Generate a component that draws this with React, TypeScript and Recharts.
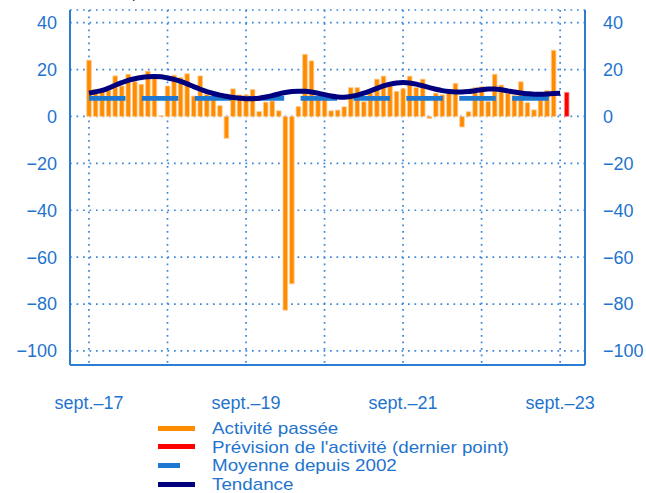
import React from "react";
import { ComposedChart, Bar, Line, XAxis, YAxis, CartesianGrid, Legend } from "recharts";

// ---------- data ----------
const monthNames = ["janv.", "févr.", "mars", "avr.", "mai", "juin", "juil.", "août", "sept.", "oct.", "nov.", "déc."];
// months from sept. 2017 (index 0) to oct. 2023 (index 73)
const months: string[] = [];
for (let i = 0; i < 74; i++) {
  const m = (8 + i) % 12;
  const y = 17 + Math.floor((8 + i) / 12);
  months.push(`${monthNames[m]}-${y}`);
}

// Activité passée: sept.-17 .. août-23
const pastActivity = [
  24, 11.5, 11.5, 11, 17.3, 13, 18, 14.8, 13.7, 19.3, 17.6, 0.3,
  13, 17.6, 16.6, 18.2, 8.7, 17.3, 9.4, 8.5, 4.6, -9.3, 11.8, 9.2,
  9.2, 11.5, 2.1, 6.1, 6.6, 2.4, -82.6, -71.4, 4.2, 26.5, 23.7, 8.5,
  10, 2.4, 2.7, 4.1, 12.3, 12.3, 6.3, 10, 15.9, 17.2, 13.4, 10.7,
  11.8, 17.2, 12.3, 15.9, -0.8, 9.9, 9.2, 9.9, 14.1, -4.5, 2, 12.3,
  12.7, 6.3, 18, 13.4, 9.9, 9, 14.8, 5.9, 2.8, 7, 11, 28.2,
];

// Prévision de l'activité (dernier point)
const forecastMonth = "oct.-23";
const forecastValue = 10.3;

// Tendance: sept.-17 .. sept.-23
const trend = [
  9.9, 10.5, 11.1, 12.1, 13.3, 14.4, 15.4, 16.1, 16.6, 16.9, 17.0, 16.9,
  16.4, 15.8, 15.0, 13.9, 12.7, 11.6, 10.6, 9.8, 9.1, 8.6, 8.1, 7.8,
  7.6, 7.6, 7.8, 8.3, 8.9, 9.6, 10.2, 10.6, 10.8, 10.7, 10.4, 9.9,
  9.3, 8.7, 8.3, 8.2, 8.5, 9.1, 9.9, 10.9, 12.0, 13.0, 13.8, 14.3,
  14.5, 14.3, 13.8, 13.1, 12.3, 11.6, 11.0, 10.6, 10.4, 10.4, 10.6, 11.0,
  11.4, 11.7, 11.7, 11.4, 10.9, 10.4, 10.0, 9.7, 9.5, 9.5, 9.6, 9.8,
  9.9,
];

// Moyenne depuis 2002
const meanSince2002 = 7.7;

const xGridMonths = [0, 12, 24, 36, 48, 60, 72];
const xTickLabels = ["sept.–17", "", "sept.–19", "", "sept.–21", "", "sept.–23"];
const yTicks = [40, 20, 0, -20, -40, -60, -80, -100];

const legendItems = [
  { label: "Activité passée", color: "#FF8C00", len: 37 },
  { label: "Prévision de l'activité (dernier point)", color: "#FF0000", len: 37 },
  { label: "Moyenne depuis 2002", color: "#1E78D2", len: 22 },
  { label: "Tendance", color: "#00007F", len: 37 },
];

const rows = months.map((m, i) => ({
  k: i,
  month: m,
  past: i < pastActivity.length ? pastActivity[i] : null,
  forecast: m === forecastMonth ? forecastValue : null,
  trend: i < trend.length ? trend[i] : null,
  mean: i < trend.length ? meanSince2002 : null,
}));

// ---------- styles ----------
const FONT = "'Liberation Sans', Arial, sans-serif";
const FS = 18;
const LEG_FS = 16.2;
const ROW_H = 18.6;
const BLUE_TEXT = "#1F74CE";
const FRAME = "#2B7DD4";
const GRID = "#3A86D8";
const X_DOMAIN: [number, number] = [-2.9, 75.8];
const Y_DOMAIN: [number, number] = [-106, 45.4];

const fmtY = (v: number) => (v < 0 ? "\u2212" + Math.abs(v) : String(v));
const fmtX = (v: number) => {
  const idx = xGridMonths.indexOf(v);
  return idx >= 0 ? xTickLabels[idx] : "";
};

const LegendContent = () => (
  <div style={{ fontFamily: FONT, fontSize: LEG_FS, color: BLUE_TEXT }}>
    {legendItems.map((it) => (
      <div key={it.label} style={{ position: "relative", height: ROW_H, lineHeight: ROW_H + "px", whiteSpace: "nowrap" }}>
        <span
          style={{
            position: "absolute",
            left: 158,
            top: (ROW_H - 5) / 2,
            width: it.len,
            height: 5,
            background: it.color,
          }}
        />
        <span
          style={{
            position: "absolute",
            left: 212,
            top: 0,
            display: "inline-block",
            transform: "scaleX(1.16)",
            transformOrigin: "0 50%",
          }}
        >
          {it.label}
        </span>
      </div>
    ))}
  </div>
);

export default function App() {
  return (
    <div style={{ position: "absolute", left: 0, top: 0, width: 646, height: 493, fontFamily: FONT, overflow: "hidden" }}>
      <div
        style={{
          position: "absolute",
          left: 70,
          top: -15,
          fontSize: 15,
          lineHeight: "15px",
          color: "#222",
          whiteSpace: "nowrap",
        }}
      >
        Solde d'opinion, en données CVS
      </div>
      <ComposedChart
        width={646}
        height={493}
        data={rows}
        margin={{ top: 10, right: 0, bottom: 88, left: 0 }}
        style={{ fontFamily: FONT }}
      >
        <CartesianGrid
          xAxisId="b"
          yAxisId="l"
          stroke={GRID}
          strokeWidth={1.7}
          strokeDasharray="1.7 4.8"
          fill="none"
        />
        <XAxis
          xAxisId="b"
          dataKey="k"
          type="number"
          domain={X_DOMAIN}
          allowDataOverflow
          ticks={xGridMonths}
          interval={0}
          tickFormatter={fmtX}
          tickLine={false}
          tickMargin={25.5}
          height={40}
          axisLine={{ stroke: FRAME, strokeWidth: 2 }}
          tick={{ fill: BLUE_TEXT, fontSize: FS, fontFamily: FONT }}
        />
        <XAxis
          xAxisId="t"
          orientation="top"
          dataKey="k"
          type="number"
          domain={X_DOMAIN}
          allowDataOverflow
          ticks={xGridMonths}
          tick={false}
          tickLine={false}
          height={0}
          axisLine={{ stroke: FRAME, strokeWidth: 2 }}
        />
        <YAxis
          yAxisId="l"
          type="number"
          domain={Y_DOMAIN}
          allowDataOverflow
          ticks={yTicks}
          interval={0}
          tickFormatter={fmtY}
          tickLine={false}
          tickMargin={7}
          width={70}
          axisLine={{ stroke: FRAME, strokeWidth: 2 }}
          tick={{ fill: BLUE_TEXT, fontSize: FS, fontFamily: FONT }}
        />
        <YAxis
          yAxisId="r"
          orientation="right"
          type="number"
          domain={Y_DOMAIN}
          allowDataOverflow
          ticks={yTicks}
          interval={0}
          tickFormatter={fmtY}
          tickLine={false}
          tickMargin={12}
          width={61}
          axisLine={{ stroke: FRAME, strokeWidth: 2 }}
          tick={{ fill: BLUE_TEXT, fontSize: FS, fontFamily: FONT, textAnchor: "start" }}
        />
        <Bar
          xAxisId="b"
          yAxisId="l"
          dataKey="past"
          barSize={4.6}
          fill="#FF8C00"
          stroke="#FFCB90"
          strokeWidth={0.8}
          isAnimationActive={false}
        />
        <Bar
          xAxisId="t"
          yAxisId="l"
          dataKey="forecast"
          barSize={4.6}
          fill="#FF0000"
          stroke="#FF9090"
          strokeWidth={0.8}
          isAnimationActive={false}
        />
        <Line
          xAxisId="b"
          yAxisId="l"
          dataKey="mean"
          type="linear"
          stroke="#1E78D2"
          strokeWidth={4.6}
          strokeDasharray="36.5 16.4"
          dot={false}
          activeDot={false}
          isAnimationActive={false}
        />
        <Line
          xAxisId="b"
          yAxisId="l"
          dataKey="trend"
          type="monotone"
          stroke="#00007F"
          strokeWidth={5}
          dot={false}
          activeDot={false}
          isAnimationActive={false}
        />
        <Legend
          layout="horizontal"
          verticalAlign="middle"
          align="center"
          content={LegendContent}
          wrapperStyle={{ top: 419, left: 0, width: 646, height: 4 * ROW_H }}
        />
      </ComposedChart>
    </div>
  );
}
